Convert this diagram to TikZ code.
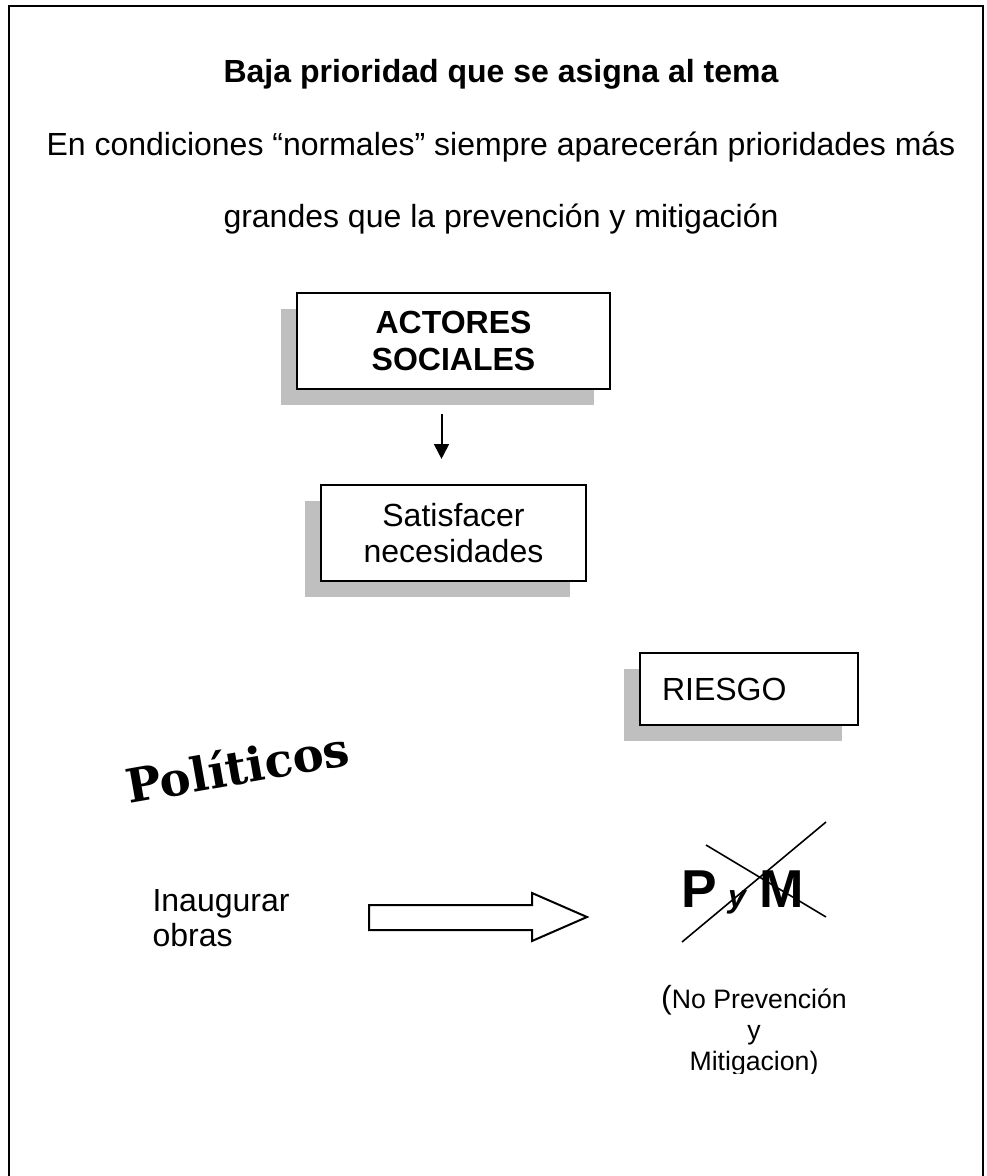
\documentclass[tikz,border=0pt]{standalone}
\usepackage{fontspec}
\setmainfont{Liberation Sans}
\newfontfamily\wordart{DejaVu Serif}
\usetikzlibrary{shadows,arrows.meta}

\begin{document}
\begin{tikzpicture}[x=0.375pt,y=-0.375pt,
        shadowbox/.style={draw,fill=white,line width=0.75pt,inner sep=0pt,align=center,
            font=\fontsize{12}{13.8}\selectfont,
            drop shadow={shadow xshift=-6pt,shadow yshift=-6pt,fill=black!25,opacity=1}},
        plain/.style={inner sep=0pt,align=center,font=\fontsize{12}{13.8}\selectfont}]
                \useasboundingbox (0,0) rectangle (987,1176);
                \draw[line width=0.75pt] (9,1176) -- (9,6) -- (983,6) -- (983,1176);
                \node[plain,anchor=base,font=\bfseries\fontsize{12}{13.8}\selectfont] (title) at (501,83) {Baja prioridad que se asigna al tema};
                \node[plain,anchor=base] (line1) at (501,156) {En condiciones “normales” siempre aparecerán prioridades más};
                \node[plain,anchor=base] (line2) at (501,228) {grandes que la prevención y mitigación};
                \node[shadowbox,minimum width=117.4pt,minimum height=36pt,font=\bfseries\fontsize{12}{13.8}\selectfont] (actores) at (453.5,341) {ACTORES\\SOCIALES};
                \node[shadowbox,minimum width=99.4pt,minimum height=36pt] (satisf) at (453.5,533) {Satisfacer\\necesidades};
                \draw[line width=0.75pt,-{Triangle[length=5.6pt,width=5.6pt]}] ([xshift=-4.5pt,yshift=-9pt]actores.south) -- ([xshift=-4.5pt,yshift=9.4pt]satisf.north);
                \node[shadowbox,minimum width=81.75pt,minimum height=27pt,text width=65.25pt,align=left,inner xsep=8.25pt] (riesgo) at (749,689) {RIESGO\\[4pt]};
                \node[rotate=10,anchor=base west,inner sep=0pt,font=\wordart\bfseries\fontsize{17.5}{20}\selectfont] (politicos) at (129,804) {Políticos};
                \node[plain,anchor=base west,align=left,font=\fontsize{12}{13.1}\selectfont] (obras) at (152,946) {Inaugurar\\obras};
                \draw[line width=0.75pt] (369,905) -- (532,905) -- (532,893) -- (587,917) -- (532,941) -- (532,930) -- (369,930) -- cycle;
                \node[inner sep=0pt,anchor=base west,font=\bfseries\fontsize{20}{24}\selectfont] (pym) at (681,907) {P\hspace{4.1pt}{\fontsize{12}{14}\selectfont\itshape y}\hspace{5.2pt}M};
                \draw[line width=0.6pt] (682,942) -- (826,822);
                \draw[line width=0.6pt] (706,845) -- (826,917);
                \begin{scope}
                \clip (0,0) rectangle (987,1073);
                \node[plain,anchor=base,font=\fontsize{10}{11.6}\selectfont] (nopm) at (754,1070) {{\fontsize{12}{11.6}\selectfont(}No Prevención\\y\\Mitigacion)};
                \end{scope}
            \end{tikzpicture}
\end{document}
